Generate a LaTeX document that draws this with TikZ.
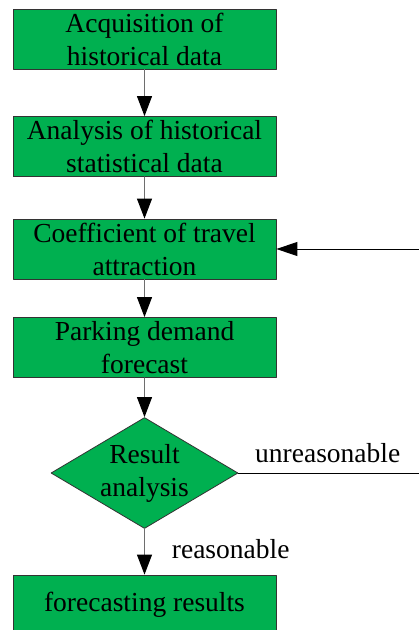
\documentclass[tikz,border=0pt]{standalone}
\usepackage{fontspec}
\setmainfont{Liberation Serif}
\newfontfamily\flowserif{Liberation Serif}
\usepackage{tikz}
\usetikzlibrary{arrows.meta,shapes.geometric}
\definecolor{boxgreen}{HTML}{00B050}
\definecolor{boxline}{HTML}{333333}
\definecolor{flowline}{HTML}{6E6E6E}
\newcommand{\flowfont}{\flowserif\fontsize{27.5}{33}\selectfont}
\tikzset{
	box/.style={draw=boxline,fill=boxgreen,line width=0.8pt,minimum width=263pt,minimum height=60pt,inner sep=0pt,align=center,font=\flowfont},
	decision/.style={draw=boxline,fill=boxgreen,line width=0.8pt,shape=diamond,minimum width=187pt,minimum height=111pt,inner sep=0pt},
	flow/.style={-{Triangle[width=15pt,length=20pt,color=black]},draw=flowline,line width=1pt},
	feedback/.style={->,draw=black,line width=0.9pt},
	note/.style={font=\flowfont,inner sep=0pt}
}

\begin{document}
\begin{tikzpicture}[line cap=round,line join=round,>={Triangle[width=14pt,length=21pt]},x=1pt,y=1pt]
		\useasboundingbox (0,0) rectangle (419,-630);
		\node[box] (acq) at (144.5,-39) {Acquisition of\\historical data};
		\node[box] (ana) at (144.5,-146.5) {Analysis of historical\\statistical data};
		\node[box] (coef) at (144.5,-249) {Coefficient of travel\\attraction};
		\node[box] (park) at (144.5,-347.5) {Parking demand\\forecast};
		\node[decision,label={[font=\flowfont,align=center]center:Result\\analysis}] (analysis) at (144.5,-473) {};
		\node[box] (res) at (144.5,-605) {forecasting results};
		\coordinate (edge) at (420,-473);
		\draw[flow] (acq) -- (ana);
		\draw[flow] (ana) -- (coef);
		\draw[flow] (coef) -- (park);
		\draw[flow] (park) -- (analysis);
		\draw[flow] (analysis) -- (res);
		\draw[feedback] (analysis.east) -- (edge) |- (coef.east);
		\node[note,anchor=base west] (unreas) at (255,-462.7) {unreasonable};
		\node[note,anchor=base west] (reas) at (171.7,-558) {reasonable};
		\end{tikzpicture}
\end{document}
